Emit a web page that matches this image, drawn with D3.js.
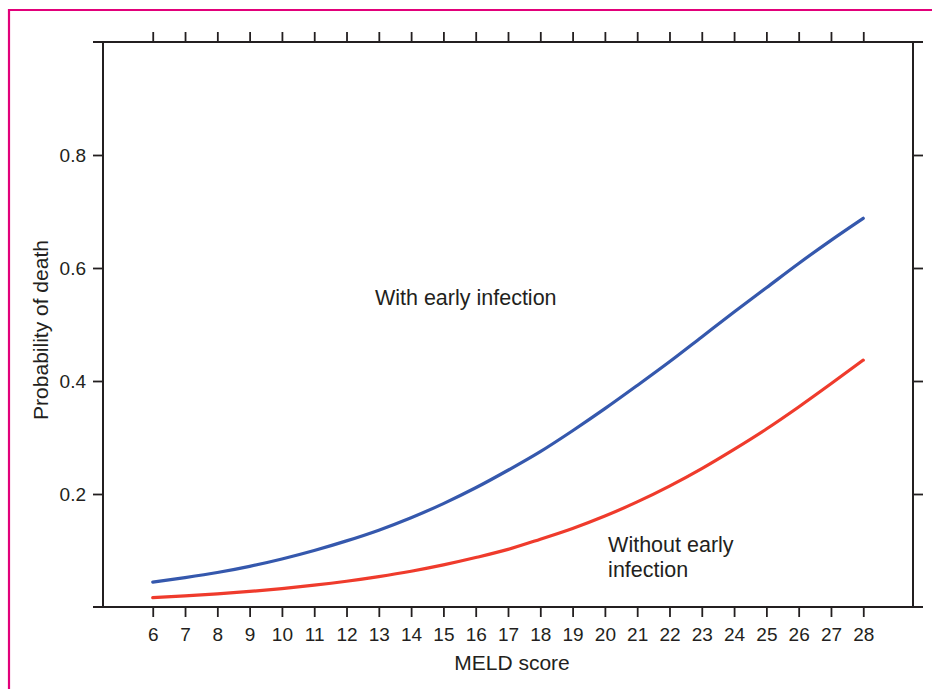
<!DOCTYPE html>
<html>
<head>
<meta charset="utf-8">
<script src="https://cdn.jsdelivr.net/npm/d3@7"></script>
<style>
  body { margin: 0; background: #fff; }
  svg text { font-family: "Liberation Sans", Arial, Helvetica, sans-serif; fill: #231f20; }
</style>
</head>
<body>
<div id="chart"></div>
<script>
// MELD scores on the x axis
var meld = [6, 7, 8, 9, 10, 11, 12, 13, 14, 15, 16, 17, 18, 19, 20, 21, 22, 23, 24, 25, 26, 27, 28];

// Probability of death
var withInfection = [0.044, 0.052, 0.061, 0.072, 0.085, 0.100, 0.117, 0.136, 0.158, 0.183, 0.211,
    0.242, 0.275, 0.312, 0.351, 0.392, 0.434, 0.478, 0.522, 0.565, 0.608, 0.649, 0.688];
var withoutInfection = [0.0165, 0.0196, 0.0232, 0.0275, 0.0326, 0.0386, 0.0456, 0.0538, 0.0633, 0.0745, 0.0875,
    0.102, 0.120, 0.139, 0.161, 0.186, 0.214, 0.245, 0.279, 0.315, 0.354, 0.395, 0.437];

var yTicks = [0.2, 0.4, 0.6, 0.8];

(function() {
    var width = 932, height = 689;
    var box = { left: 103, right: 913, top: 42, bottom: 607 };
    var tick = 10;

    var svg = d3.select("#chart")
        .append("svg")
        .attr("width", width)
        .attr("height", height);

    // pink frame round the figure (open on right and bottom like the crop)
    svg.append("path")
        .attr("d", "M9," + (height + 5) + "V10H" + (width + 5))
        .attr("fill", "none")
        .attr("stroke", "#e2007a")
        .attr("stroke-width", 2.2);

    var x = d3.scaleLinear()
        .domain([4.46, 29.54])
        .range([box.left, box.right]);
    var y = d3.scaleLinear()
        .domain([0, 1])
        .range([box.bottom, box.top]);

    // axes: ticks on all four sides, all pointing outward
    var bottom = svg.append("g")
        .attr("transform", "translate(0," + box.bottom + ")")
        .call(d3.axisBottom(x).tickValues(meld).tickSize(tick).tickPadding(11).tickSizeOuter(0));
    var top = svg.append("g")
        .attr("transform", "translate(0," + box.top + ")")
        .call(d3.axisTop(x).tickValues(meld).tickSize(tick).tickFormat("").tickSizeOuter(0));
    var left = svg.append("g")
        .attr("transform", "translate(" + box.left + ",0)")
        .call(d3.axisLeft(y).tickValues(yTicks).tickSize(tick).tickPadding(7).tickFormat(d3.format(".1f")).tickSizeOuter(0));
    var right = svg.append("g")
        .attr("transform", "translate(" + box.right + ",0)")
        .call(d3.axisRight(y).tickValues(yTicks).tickSize(tick).tickFormat("").tickSizeOuter(0));

    [bottom, top, left, right].forEach(function(g) {
        g.select(".domain").remove();
        g.selectAll(".tick line").attr("stroke", "#231f20").attr("stroke-width", 1.8);
        g.selectAll("text").style("font-size", "19px").attr("fill", "#231f20");
    });

    // frame lines, horizontal ones run past the side ticks
    var frame = svg.append("g")
        .attr("stroke", "#231f20")
        .attr("stroke-width", 2);
    [box.top, box.bottom].forEach(function(yy) {
        frame.append("line")
            .attr("x1", box.left - tick).attr("x2", box.right + tick)
            .attr("y1", yy).attr("y2", yy);
    });
    [box.left, box.right].forEach(function(xx) {
        frame.append("line")
            .attr("x1", xx).attr("x2", xx)
            .attr("y1", box.top).attr("y2", box.bottom);
    });

    // curves
    var line = d3.line()
        .x(function(d) { return x(d[0]); })
        .y(function(d) { return y(d[1]); })
        .curve(d3.curveMonotoneX);

    var series = [
        { values: withInfection, color: "#3558ad" },
        { values: withoutInfection, color: "#ef3b2c" }
    ];
    series.forEach(function(s) {
        svg.append("path")
            .datum(meld.map(function(m, i) { return [m, s.values[i]]; }))
            .attr("d", line)
            .attr("fill", "none")
            .attr("stroke", s.color)
            .attr("stroke-width", 3.2)
            .attr("stroke-linecap", "round");
    });

    // curve labels
    svg.append("text")
        .attr("x", x(12.88)).attr("y", y(0.534))
        .style("font-size", "21.5px")
        .text("With early infection");

    var lbl = svg.append("text")
        .attr("x", x(20.1)).attr("y", y(0.097))
        .style("font-size", "21.5px");
    lbl.append("tspan").text("Without early");
    lbl.append("tspan").attr("x", x(20.1)).attr("dy", 25).text("infection");

    // axis titles
    svg.append("text")
        .attr("x", (box.left + box.right) / 2 + 4)
        .attr("y", 670)
        .attr("text-anchor", "middle")
        .style("font-size", "21px")
        .text("MELD score");

    svg.append("text")
        .attr("transform", "translate(48,330) rotate(-90)")
        .attr("text-anchor", "middle")
        .style("font-size", "21px")
        .text("Probability of death");
}());
</script>
</body>
</html>
